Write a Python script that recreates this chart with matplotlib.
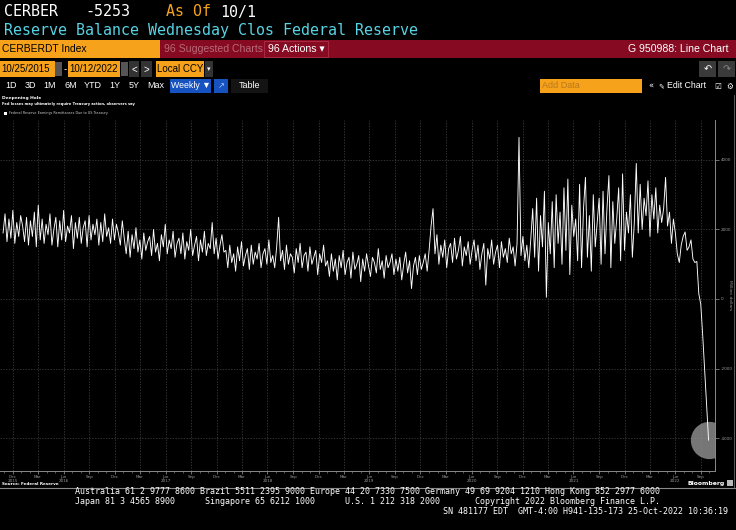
import pandas as pd
import matplotlib.pyplot as plt
from matplotlib.patches import Rectangle

W, H = 736, 530

# weekly values, million dollars
vals_2015 = [1900, 2450, 1650, 2300, 1750, 2550, 1600, 2200, 1800, 2400]
vals_2016 = [2100, 1650, 2350, 1550, 2250, 1800, 2500, 1500, 2700, 1700,
             2300, 1600, 2150, 1850, 2450, 1550, 2000, 2350, 1500, 2250,
             1700, 2550, 1650, 2100, 1900, 2400, 1450, 2200, 1750, 2350,
             1600, 2050, 2250, 1500, 2400, 1700, 2150, 1850, 2300, 1550,
             2200, 1650, 2450, 1800, 2050, 1600, 2300, 1700, 2150, 1900,
             1550, 2250]
vals_2017 = [1750, 1300, 1950, 1200, 1850, 1450, 2050, 1350, 1700, 1150,
             1900, 1400, 1650, 1800, 1250, 2000, 1350, 1600, 1100, 1850,
             1500, 2150, 1300, 1700, 1450, 1950, 1200, 1600, 1750, 1300,
             1900, 1150, 1650, 1400, 2000, 1250, 1550, 1800, 1100, 1700,
             1350, 1950, 1250, 1600, 1450, 2200, 1300, 1750, 1150, 1550,
             1850, 1350]
vals_2018 = [1400, 900, 1550, 1050, 1300, 800, 1500, 1100, 1650, 950,
             1250, 1450, 850, 1550, 1000, 1350, 1150, 1600, 900, 1300,
             1450, 1000, 1700, 1050, 1250, 900, 1500, 2350, 1100, 1400,
             850, 1550, 1000, 1300, 1200, 750, 1450, 1050, 1600, 900,
             1250, 1350, 800, 1500, 1000, 1200, 1400, 700, 1300, 1050,
             1550, 950]
vals_2019 = [1100, 650, 1300, 800, 1150, 550, 1250, 900, 1400, 700,
             1050, 1200, 600, 1350, 850, 1000, 1250, 500, 1150, 800,
             1300, 950, 650, 1200, 1050, 750, 1450, 850, 1100, 600,
             1250, 900, 1050, 1300, 700, 1150, 800, 1200, 550, 1000,
             1350, 750, 1100, 300, 950, 1200, 700, 1250, 850, 1050,
             1300, 800]
vals_2020 = [1400, 2100, 2600, 1300, 1850, 1000, 1550, 1200, 1700, 900,
             1450, 1600, 1050, 1750, 1150, 1400, 1800, 950, 1500, 1250,
             1650, 1000, 1400, 1700, 1100, 1550, 850, 1300, 1600, 400,
             1450, 1150, 1700, 1000, 1350, 1550, 900, 1650, 1200, 1450,
             1050, 1750, 1300, 1500, 950, 1600, 4650, 1250, 1800, 1100,
             1550, 900, 1700]
vals_2021 = [2600, 1200, 2900, 800, 2400, 1500, 3100, 50, 2200, 1300,
             2800, 900, 3000, 1600, 2500, 1000, 3200, 1400, 3450, 700,
             2700, 1800, 2300, 1100, 3300, 900, 2600, 3500, 1200, 2400,
             800, 3000, 1500, 2200, 2900, 1000, 3100, 1300, 2600, 3550,
             900, 2800, 1600, 2300, 3200, 1100, 3600, 1400, 2500, 1900,
             3000, 1200]
vals_2022 = [2200, 3900, 1900, 3300, 2000, 2900, 2400, 3400, 1800, 3000,
             2300, 3200, 1900, 2700, 2200, 2600, 3500, 2100, 2500, 1600,
             2300, 1900, 1300, 1050, 1550, 1800, 1930, 1400, 1500, 1700,
             1150, 1050, 1080, 150, -150, -1050, -2050, -3050, -4060]
first_week = "2015-10-28"

y_ticks = [4000, 2000, 0, -2000, -4000]
y_tick_labels = ["4000", "2000", "0", "-2000", "-4000"]

values = vals_2015 + vals_2016 + vals_2017 + vals_2018 + vals_2019 + vals_2020 + vals_2021 + vals_2022
dates = pd.date_range(first_week, periods=len(values), freq="7D")

orange = "#f7a21b"
darkred = "#850a22"
grey = "#9a9a9a"
ui = ["Liberation Sans", "DejaVu Sans"]
mono = "DejaVu Sans Mono"

fig = plt.figure(figsize=(W / 100, H / 100), dpi=100, facecolor="black")


def box(x, y, w, h, color, ec="none"):
    fig.add_artist(Rectangle((x / W, 1 - (y + h) / H), w / W, h / H, transform=fig.transFigure,
                             facecolor=color, edgecolor=ec, lw=0.6))


def txt(x, y, s, **kw):
    kw.setdefault("va", "center")
    fig.text(x / W, 1 - y / H, s, **kw)


# header lines
txt(4, 12, "CERBER", color="white", family=mono, fontsize=10.8)
txt(85, 12, "-5253", color="white", family=mono, fontsize=10.8)
txt(166, 12, "As Of", color=orange, family=mono, fontsize=10.8)
txt(220, 12, "10/1", color="white", family=mono, fontsize=10.8)
txt(4, 31, "Reserve Balance Wednesday Clos Federal Reserve", color="#58d3e3", family=mono, fontsize=10.8)

# command bar
box(0, 40, 160, 18, orange)
box(160, 40, 576, 18, darkred)
box(264, 41, 64, 16, darkred, ec="#b03048")
txt(2, 49.5, "CERBERDT Index", color="black", family=ui, fontsize=7.4)
txt(164, 49.5, "96 Suggested Charts", color="#b86a78", family=ui, fontsize=7.6)
txt(268, 49.5, "96 Actions \u25be", color="white", family=ui, fontsize=7.6)
txt(728, 49.5, "G 950988: Line Chart", color="white", family=ui, fontsize=7.6, ha="right")

# date row
box(0, 61, 55, 16, orange)
box(68, 61, 52, 16, orange)
box(156, 61, 48, 16, orange)
box(55, 62, 7, 14, "#555555")
box(121, 62, 7, 14, "#555555")
box(129, 61, 10, 16, "#333333")
box(141, 61, 11, 16, "#333333")
box(205, 61, 8, 16, "#333333")
box(699, 61, 17, 16, "#3a3a3a")
box(718, 61, 17, 16, "#3a3a3a")
txt(1, 69.5, "10/25/2015", color="black", family=ui, fontsize=7)
txt(65, 69.5, "-", color="white", family=ui, fontsize=7, ha="center")
txt(69, 69.5, "10/12/2022", color="black", family=ui, fontsize=7)
txt(134, 69.5, "<", color="white", family=ui, fontsize=7, ha="center")
txt(146.5, 69.5, ">", color="white", family=ui, fontsize=7, ha="center")
txt(157, 69.5, "Local CCY", color="black", family=ui, fontsize=7)
txt(209, 69.5, "\u25be", color="white", fontsize=5, ha="center")
txt(707.5, 69.5, "\u21b6", color="white", fontsize=7, ha="center")
txt(726.5, 69.5, "\u21b7", color="#888888", fontsize=7, ha="center")

# period buttons
for label, xc in zip(["1D", "3D", "1M", "6M", "YTD", "1Y", "5Y", "Max"],
                     [11, 30, 50, 71, 93, 115, 134, 156]):
    txt(xc, 86, label, color="white", family=ui, fontsize=6.5, ha="center")
box(170, 79, 41, 14, "#1753c0")
box(214, 79, 14, 14, "#1753c0")
box(231, 79, 37, 14, "#141414")
txt(190.5, 86, "Weekly \u25bc", color="white", family=ui, fontsize=6.3, ha="center")
txt(221, 86, "\u2197", color="#a8c8ff", fontsize=6, ha="center")
txt(249.5, 86, "Table", color="white", family=ui, fontsize=6.5, ha="center")
box(540, 79, 102, 14, orange)
txt(542, 86, "Add Data", color="#b8781c", family=ui, fontsize=6.5)
txt(651, 86, "\u00ab", color="white", fontsize=6, ha="center")
txt(661, 86, "\u270e", color="white", fontsize=5, ha="center")
txt(667, 86, "Edit Chart", color="white", family=ui, fontsize=6.3)
txt(718, 86, "\u2611", color="white", fontsize=5.5, ha="center")
txt(730, 86, "\u2699", color="white", fontsize=5.5, ha="center")

# chart titles and legend
txt(2, 97.5, "Deepening Hole", color="white", fontsize=3.2, fontweight="bold")
txt(2, 104, "Fed losses may ultimately require Treasury action, observers say", color="white", fontsize=2.6, fontweight="bold")
box(4, 111.5, 3, 3, "white")
txt(9, 113, "Federal Reserve Earnings Remittances Due to US Treasury", color="#cccccc", fontsize=2.4)

# chart
ax = fig.add_axes([0, 1 - 470.7 / H, 715 / W, (470.7 - 120) / H], facecolor="black")
ax.plot(dates, values, color="white", lw=0.65, zorder=3)
ax.scatter(dates[-1:], values[-1:], s=720, color="#8c8c8c", alpha=0.85, zorder=2, lw=0)
ax.set_xlim(pd.Timestamp("2015-10-17"), pd.Timestamp("2022-10-21"))
ax.set_ylim(-4940, 5150)

quarters = pd.date_range("2015-12-01", "2022-09-01", freq="3MS")
q_labels = []
for i, d in enumerate(quarters):
    lab = d.strftime("%b")
    if d.month == 6 or i == 0:
        lab += "\n" + str(d.year)
    q_labels.append(lab)
ax.set_xticks(quarters, q_labels)
ax.set_xticks(pd.date_range("2015-11-01", "2022-10-01", freq="MS"), minor=True)
ax.tick_params(axis="x", which="major", colors=grey, labelsize=3, length=2, width=0.5, pad=1)
ax.tick_params(axis="x", which="minor", colors=grey, length=1.2, width=0.4)

ax.yaxis.tick_right()
ax.set_yticks(y_ticks, y_tick_labels)
ax.tick_params(axis="y", colors=grey, labelsize=3, length=3, width=0.5, pad=1)
ax.yaxis.set_label_position("right")
ax.set_ylabel("Million dollars", color=grey, fontsize=3.2, rotation=270, va="center")
ax.yaxis.set_label_coords(730 / 715, 0.5)

ax.grid(True, which="major", color="#454545", lw=0.5, linestyle=(0, (2, 2)))
for side in ["top", "left"]:
    ax.spines[side].set_visible(False)
for side in ["right", "bottom"]:
    ax.spines[side].set_color("#8a8a8a")
    ax.spines[side].set_linewidth(0.7)

txt(2, 484, "Source: Federal Reserve", color="white", fontsize=3, fontweight="bold")
txt(725, 483, "Bloomberg", color="white", fontsize=4.4, fontweight="bold", ha="right")
box(727, 480, 6, 6, "#bbbbbb")

# frame lines
fig.add_artist(plt.Line2D([0, 1], [1 - 488 / H, 1 - 488 / H], transform=fig.transFigure, color="#8a8a8a", lw=0.8))
fig.add_artist(plt.Line2D([734 / W, 734 / W], [1 - 95 / H, 1 - 488 / H], transform=fig.transFigure, color="#6a6a6a", lw=0.6))

# footer
txt(75, 492, "Australia 61 2 9777 8600 Brazil 5511 2395 9000 Europe 44 20 7330 7500 Germany 49 69 9204 1210 Hong Kong 852 2977 6000",
    color="white", family=mono, fontsize=6)
txt(75, 501.5, "Japan 81 3 4565 8900      Singapore 65 6212 1000      U.S. 1 212 318 2000       Copyright 2022 Bloomberg Finance L.P.",
    color="white", family=mono, fontsize=6)
txt(443, 511, "SN 481177 EDT  GMT-4:00 H941-135-173 25-Oct-2022 10:36:19", color="white", family=mono, fontsize=6)

fig.savefig("out.png", dpi=100, facecolor="black")
